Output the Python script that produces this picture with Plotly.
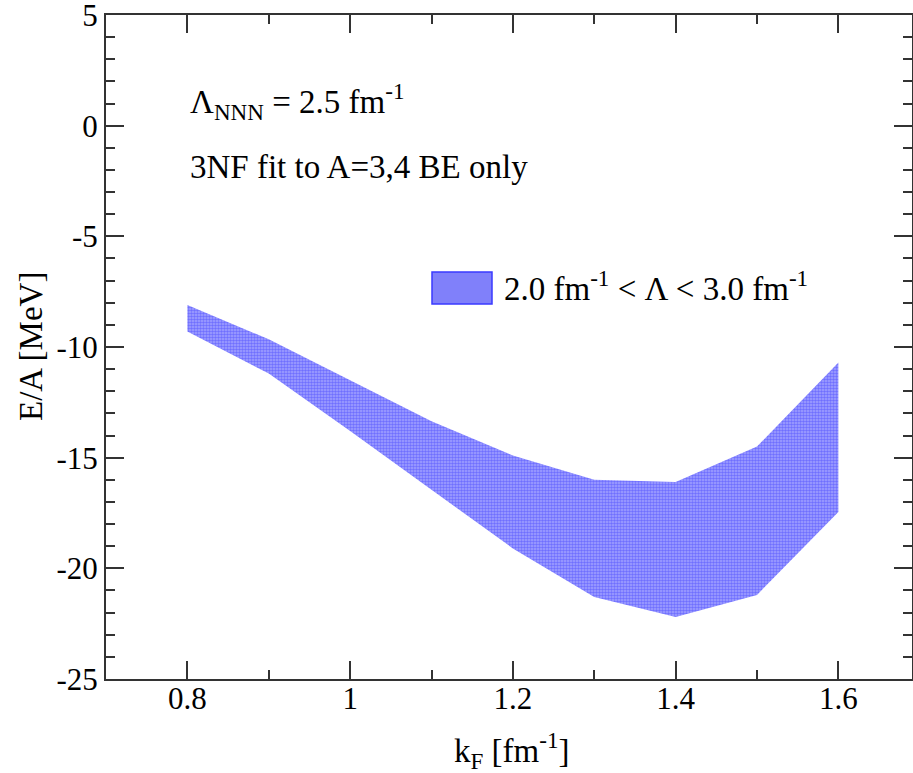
import plotly.graph_objects as go

# ---- data ----
kF = [0.8, 0.9, 1.0, 1.1, 1.2, 1.3, 1.4, 1.5, 1.6]
upper = [-8.1, -9.65, -11.5, -13.35, -14.9, -16.0, -16.1, -14.5, -10.7]
lower = [-9.3, -11.2, -13.8, -16.45, -19.1, -21.3, -22.2, -21.2, -17.45]

x_tickvals = [0.8, 1.0, 1.2, 1.4, 1.6]
x_ticktext = ["0.8", "1", "1.2", "1.4", "1.6"]
y_tickvals = [5, 0, -5, -10, -15, -20, -25]
y_ticktext = ["5", "0", "-5", "-10", "-15", "-20", "-25"]

x_title = "k<sub>F</sub> [fm<sup>-1</sup>]"
y_title = "E/A [MeV]"
band_label = "2.0 fm<sup>-1</sup> < Λ < 3.0 fm<sup>-1</sup>"
note1 = "Λ<sub>NNN</sub> = 2.5 fm<sup>-1</sup>"
note2 = "3NF fit to A=3,4 BE only"

FONT = "Liberation Serif, Times New Roman, serif"
BLUE_BG = "#a4a4ff"
BLUE_FG = "#3a3aff"
FS = 33

fig = go.Figure()
fig.add_trace(go.Scatter(
    x=kF + kF[::-1],
    y=upper + lower[::-1],
    fill="toself",
    fillcolor=BLUE_BG,
    fillpattern=dict(shape=".", fgcolor=BLUE_FG, bgcolor=BLUE_BG, size=3, solidity=0.55),
    line=dict(width=0),
    mode="lines",
    hoverinfo="skip",
    showlegend=False,
))

W, H = 913, 773
L, R, T, B = 106, 1, 15, 94
pw, ph = W - L - R, H - T - B

def px2paper(px, py):
    return (px - L) / pw, (H - B - py) / ph

axis_common = dict(
    showline=True, linecolor="#333333", linewidth=2, mirror="ticks",
    ticks="inside", ticklen=18, tickwidth=1.5, tickcolor="#333333",
    showgrid=False, zeroline=False, automargin=False,
    ticklabeloverflow="allow",
    tickfont=dict(family=FONT, size=31, color="black"),
)

fig.update_layout(
    width=W, height=H,
    margin=dict(l=L, r=R, t=T, b=B, autoexpand=False),
    paper_bgcolor="white", plot_bgcolor="white",
    font=dict(family=FONT, color="black"),
    xaxis=dict(
        range=[0.7, 0.7 + pw / 813.75],
        tickvals=x_tickvals, ticktext=x_ticktext,
        ticklabelstandoff=-9,
        minor=dict(ticks="inside", ticklen=9, tickwidth=1.5, tickcolor="#333333", dtick=0.1, tick0=0.7),
        **axis_common,
    ),
    yaxis=dict(
        range=[-25, 5],
        tickvals=y_tickvals, ticktext=y_ticktext,
        minor=dict(ticks="inside", ticklen=9, tickwidth=1.5, tickcolor="#333333", dtick=1, tick0=0),
        **axis_common,
    ),
)

# axis titles
tx, ty = px2paper(512, 750)
fig.add_annotation(xref="paper", yref="paper", x=tx, y=ty, text=x_title, showarrow=False,
                   xanchor="center", yanchor="middle", font=dict(family=FONT, size=FS, color="black"))
tx, ty = px2paper(31, 347)
fig.add_annotation(xref="paper", yref="paper", x=tx, y=ty, text=y_title, showarrow=False, textangle=-90,
                   xanchor="center", yanchor="middle", font=dict(family=FONT, size=FS, color="black"))

# legend swatch and label
x0, y0 = px2paper(432, 304)
x1, y1 = px2paper(492, 272)
fig.add_shape(type="rect", xref="paper", yref="paper", x0=x0, y0=y0, x1=x1, y1=y1,
              fillcolor="#8080fa", line=dict(color="#3a3aff", width=1.5))
lx, ly = px2paper(502, 286)
fig.add_annotation(xref="paper", yref="paper", x=lx, y=ly, text=band_label, showarrow=False,
                   xanchor="left", yanchor="middle", font=dict(family=FONT, size=FS, color="black"))

ax, ay = px2paper(188, 102)
fig.add_annotation(xref="paper", yref="paper", x=ax, y=ay, text=note1, showarrow=False,
                   xanchor="left", yanchor="middle", font=dict(family=FONT, size=FS, color="black"))
ax, ay = px2paper(188, 167)
fig.add_annotation(xref="paper", yref="paper", x=ax, y=ay, text=note2, showarrow=False,
                   xanchor="left", yanchor="middle", font=dict(family=FONT, size=FS, color="black"))

fig.write_html(
    "out.html",
    config={"displayModeBar": False},
    post_script="document.body.style.margin='0';document.body.style.overflow='hidden';",
)
